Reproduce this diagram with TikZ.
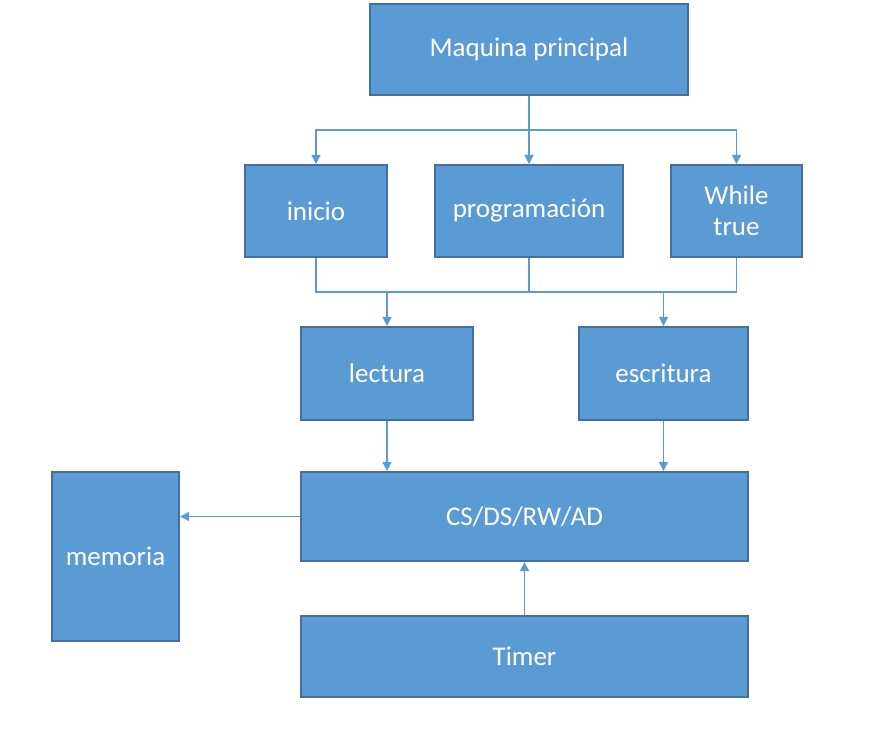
\documentclass[tikz,border=0pt]{standalone}
\usepackage{fontspec}
\setmainfont{Carlito}
\usetikzlibrary{arrows.meta}
\definecolor{boxfill}{HTML}{5B9BD5}
\definecolor{boxdraw}{HTML}{41719C}
\definecolor{linec}{HTML}{5B9BD5}
\begin{document}
\begin{tikzpicture}[x=1pt,y=-1pt,
  blk/.style={draw=boxdraw, fill=boxfill, line width=2pt, text=white, inner sep=0pt,
    font=\fontsize{27}{31}\selectfont, align=center},
  conn/.style={draw=linec, line width=1.2pt},
  arr/.style={conn, -{Triangle[length=9pt,width=9pt]}}]
\useasboundingbox (0,0) rectangle (895,730);
\node[blk, minimum width=318pt, minimum height=91pt] (maq) at (529,49.5) {Maquina principal};
\node[blk, minimum width=142pt, minimum height=92pt] (ini) at (316,211) {inicio};
\node[blk, minimum width=188pt, minimum height=92pt] (prog) at (529,211) {programación};
\node[blk, minimum width=131pt, minimum height=92pt] (wt) at (736.5,211) {While\\true};
\node[blk, minimum width=172pt, minimum height=93pt] (lec) at (387,373.5) {lectura};
\node[blk, minimum width=169pt, minimum height=93pt] (esc) at (663.5,373.5) {escritura};
\node[blk, minimum width=447pt, minimum height=89pt] (cs) at (524.5,516.5) {CS/DS/RW/AD};
\node[blk, minimum width=127pt, minimum height=169pt] (mem) at (115.5,556.5) {memoria};
\node[blk, minimum width=447pt, minimum height=81pt] (tim) at (524.5,656.5) {Timer};
% top bus
\coordinate (b1) at (529,130);
\draw[conn] (maq.south) -- (b1);
\draw[arr] (b1) -| (ini.north);
\draw[arr] (b1) -- (prog.north);
\draw[arr] (b1) -| (wt.north);
% second bus
\coordinate (b2l) at (387,292);
\coordinate (b2r) at (663.5,292);
\draw[conn] (ini.south) |- (b2l);
\draw[conn] (prog.south) |- (b2l);
\draw[conn] (prog.south) |- (b2r);
\draw[conn] (wt.south) |- (b2r);
\draw[arr] (b2l) -- (lec.north);
\draw[arr] (b2r) -- (esc.north);
% to CS
\draw[arr] (lec.south) -- (lec.south |- cs.north);
\draw[arr] (esc.south) -- (esc.south |- cs.north);
\draw[arr] (cs.west) -- (mem.east |- cs.west);
\draw[arr] (tim.north) -- (cs.south);
\end{tikzpicture}
\end{document}
